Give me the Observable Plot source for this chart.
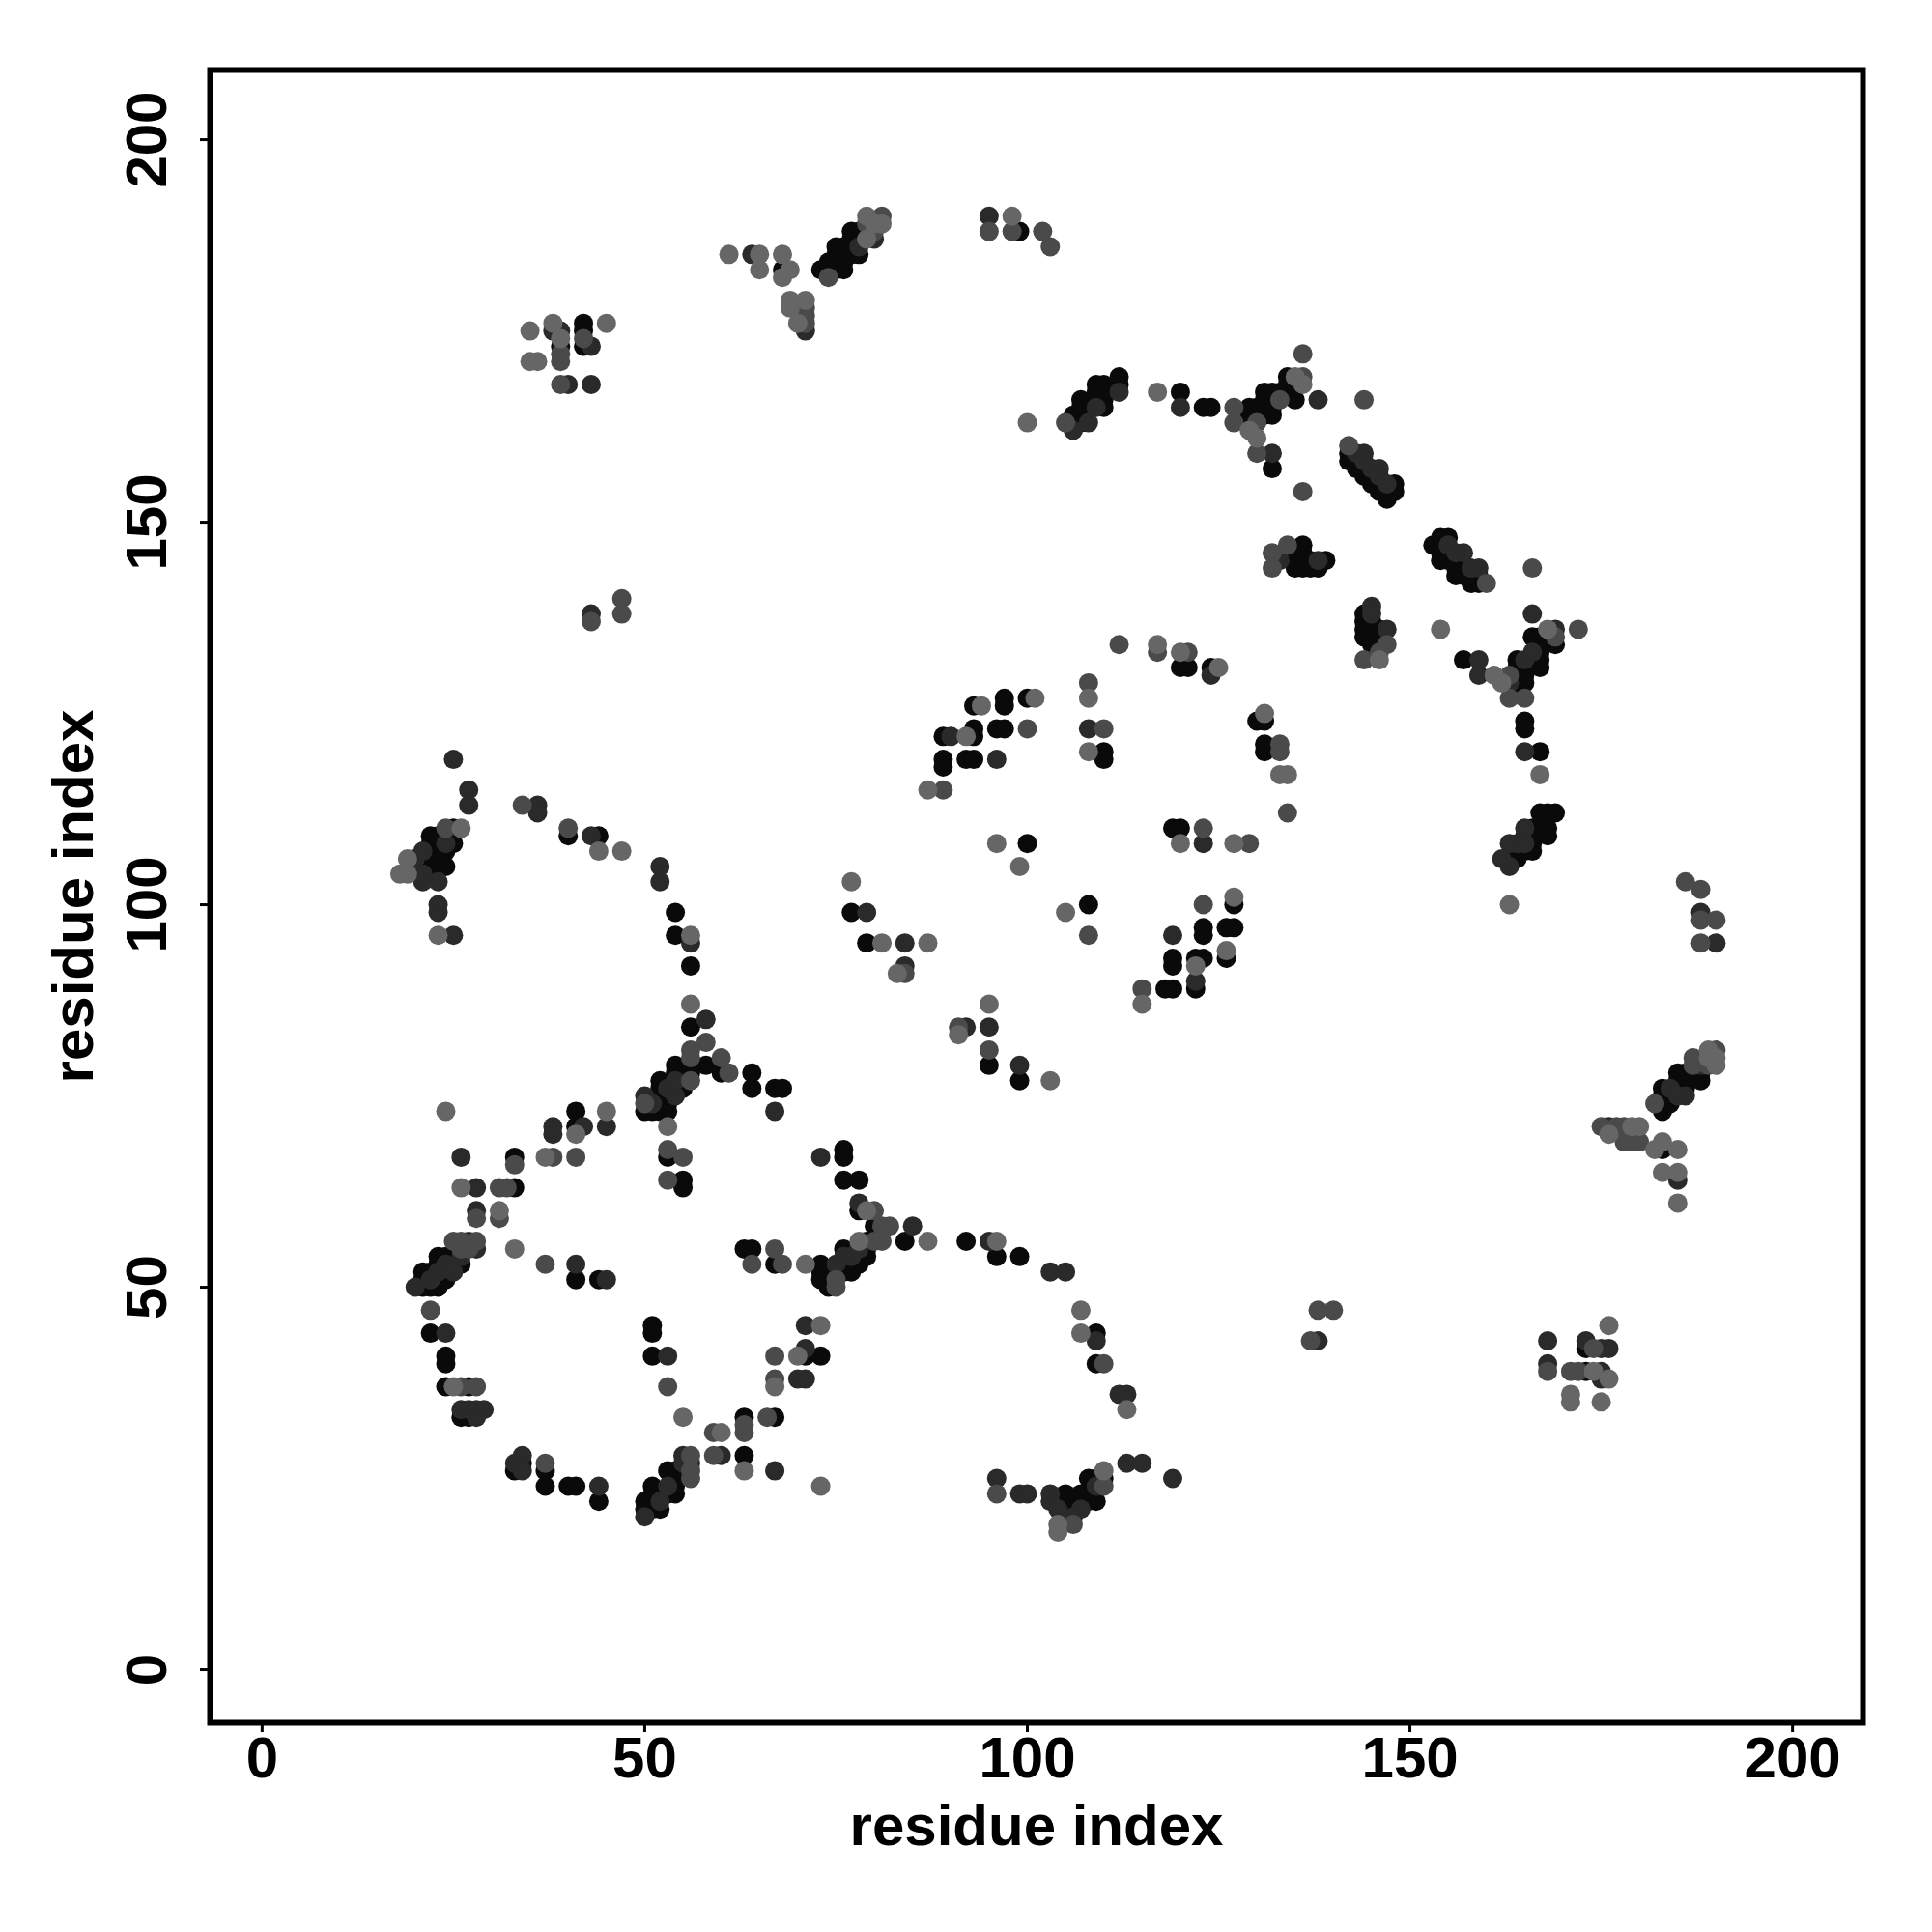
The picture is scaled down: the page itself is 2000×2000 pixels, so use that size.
<!DOCTYPE html>
<html>
<head>
<meta charset="utf-8">
<script src="https://cdn.jsdelivr.net/npm/d3@7"></script>
<script src="https://cdn.jsdelivr.net/npm/@observablehq/plot@0.6"></script>
<style>html,body{margin:0;padding:0;background:#fff}svg{display:block}</style>
</head>
<body>
<div id="chart"></div>
<script>
const tickValues = [0, 50, 100, 150, 200];
const axisLabel = "residue index";

const contactsBlack = [[41,73],[41,71],[33,67],[33,63],[21,50],[22,50],[23,50],[21,51],[21,52],[22,52],[23,51],[24,51],[23,53],[23,54],[24,54],[25,54],[25,53],[26,53],[22,44],[24,41],[24,40],[24,37],[27,37],[26,33],[27,33],[34,27],[33,26],[37,26],[37,24],[40,24],[41,24],[44,22],[41,51],[44,51],[50,22],[50,21],[51,24],[51,23],[51,21],[52,21],[52,23],[53,26],[54,26],[54,25],[54,24],[54,23],[53,23],[63,33],[63,28],[67,33],[51,45],[51,44],[51,41],[53,67],[55,64],[55,63],[76,68],[76,67],[76,64],[63,55],[64,55],[67,53],[71,41],[73,41],
[78,64],[78,60],[80,58],[84,56],[92,56],[96,54],[99,54],[109,44],[109,40],[105,23],[105,21],[105,22],[106,21],[107,22],[108,22],[108,23],[109,22],[109,25],[110,25],[107,23],[108,25],
[73,53],[73,52],[73,51],[74,51],[74,50],[74,52],[75,52],[76,52],[76,53],[76,55],[77,52],[77,53],[78,53],[78,54],[79,54],[79,55],[79,56],
[22,109],[22,108],[23,109],[25,110],[25,108],[24,107],[22,105],[21,105],[23,105],[24,105],[22,106],[23,106],[23,107],[22,104],[40,109],[44,109],[54,99],[54,96],[56,92],[56,84],[60,78],[58,79],[56,79],[54,79],[54,78],[56,78],[55,76],[52,77],[52,76],[53,75],[64,78],[64,76],[67,76],[68,76],[50,73],[51,73],[52,73],[53,73],[52,74],[52,75],[53,74],
[120,131],[121,131],[124,131],[110,120],[110,119],[130,124],[131,124],[131,121],[131,120],[93,126],[97,127],[97,126],[100,127],[96,123],[97,123],[93,123],[93,122],[89,122],[89,119],[89,118],[92,119],[93,119],[100,108],[119,110],[120,110],[77,99],[79,95],[95,79],[99,77],[108,100],[118,89],[119,89],[122,89],[122,93],[123,93],[119,93],[119,92],[123,97],[123,96],[126,97],[127,97],[126,93],[127,100],
[106,164],[107,166],[107,165],[107,164],[107,163],[109,168],[109,167],[109,166],[110,168],[110,167],[110,166],[110,165],[112,169],[112,168],[120,167],[123,165],[124,165],[129,165],[129,164],[129,163],[130,165],[130,164],[131,167],[131,166],[131,165],[131,164],[132,167],[132,166],[132,165],[132,164],[133,167],[134,169],[134,168],[134,167],[135,166],[135,168],[132,157],[142,159],[142,158],[143,157],[143,158],[144,156],[144,157],[145,155],[145,156],[146,154],[146,155],[147,153],[147,154],[148,155],[148,154],[135,146],[135,145],[135,144],[136,147],[136,146],[136,145],[136,144],[137,145],[137,144],[138,144],[139,145],[144,138],[144,137],[144,136],[144,135],[145,137],[145,136],[145,135],[145,134],[146,136],[146,135],[157,132],
[153,147],[154,148],[154,145],[154,146],[155,148],[155,146],[155,145],[156,143],[156,144],[156,145],[157,144],[157,143],[158,142],[158,143],[159,143],[159,142],[166,135],[167,135],[169,134],[167,134],[167,133],[167,132],[167,131],[164,132],[164,131],[165,131],[165,130],[165,129],[164,130],[164,129],[165,124],[165,123],[167,120],[167,112],[168,112],[169,112],[166,110],[167,110],[168,110],[168,109],[166,108],[166,107],[165,107],[164,107],[163,106],[164,106],[165,109],[166,109],
[173,39],[173,42],[183,73],[183,74],[183,75],[183,76],[184,74],[184,75],[185,78],[185,77],[185,76],[186,78],[186,77],[186,76],[188,77],[188,78],[187,78],[183,68],
[39,173],[42,176],[42,175],[42,173],[68,183],[73,183],[74,184],[74,183],[75,186],[75,185],[75,183],[76,186],[76,184],[76,183],[77,188],[77,187],[77,185],[78,188],[78,185],[99,188]];

const contactsDark = [[38,71],[38,70],[42,71],[45,71],[26,67],[28,63],[28,60],[20,50],[26,54],[28,55],[27,56],[24,44],[26,34],[27,34],[28,34],[29,34],[28,33],[34,28],[33,27],[34,26],[44,24],[50,20],[55,28],[56,27],[60,28],[67,26],[67,73],[73,67],[53,41],[71,45],[71,42],[70,38],[71,38],[78,61],[85,58],[95,56],[103,52],[105,52],[109,43],[112,36],[113,36],[113,27],[115,27],[119,25],[96,25],[99,23],[100,23],[103,23],[103,22],[106,20],[107,21],[109,24],[25,119],[27,115],[27,113],[36,113],[36,112],[43,109],[20,106],[21,107],[21,103],[21,104],[23,103],[23,100],[23,99],[25,96],[52,105],[52,103],[56,95],[58,85],[50,75],[53,76],[41,53],[45,51],
[124,130],[108,123],[90,122],[96,119],[123,108],[79,99],[84,95],[84,92],[95,84],[92,84],[99,79],[119,96],[122,90],
[106,162],[108,163],[112,167],[120,165],[138,166],[132,159],[159,130],[143,159],[144,159],[146,157],[145,139],[145,138],[147,136],[138,145],[159,132],[157,146],[159,144],[166,138],[169,136],[163,129],[165,120],[165,110],[164,108],[163,108],[163,105],[162,106],[188,99],[190,95],[138,43],[168,43],[168,40],[173,43],[175,42],[176,42],[175,39],[175,38],[176,71],[186,75],[188,79],[185,64],[38,175],[39,175],[40,168],[43,173],[43,168],[43,138],[71,175],[64,185],[80,187],[95,190],
[22,51],[23,52],[24,53],[25,52],[52,22],[53,24],[75,53],[76,54],[77,54],[78,55],[144,158],[145,157],[146,156],[147,155],[155,147],[156,146],[158,144],[24,108],[109,165],[165,132],[165,108],[184,76],[185,75],[78,186],[104,21],[166,133],[133,145],[54,75],[54,77],[51,74],[55,27]];

const contactsMid = [[33,66],[31,63],[32,63],[28,59],[31,59],[38,67],[41,67],[37,53],[26,55],[27,55],[25,56],[26,56],[28,56],[22,47],[26,37],[28,37],[37,27],[56,28],[56,26],[56,25],[59,28],[59,31],[63,32],[63,31],[66,33],[53,68],[55,67],[53,64],[53,37],[64,53],[67,55],[68,53],[67,41],[67,38],[80,60],[81,58],[82,58],[96,23],[106,19],[110,24],[110,40],[75,50],[75,51],[80,56],[81,56],
[34,113],[40,110],[24,110],[58,82],[56,81],[56,80],[60,80],[61,78],[56,77],[50,74],
[112,134],[117,133],[121,133],[108,129],[110,123],[100,123],[133,121],[133,120],[134,112],[123,110],[129,108],[89,115],[84,91],[91,84],[95,81],[108,96],[115,89],[123,100],
[105,163],[127,165],[127,163],[130,163],[133,166],[136,169],[136,172],[144,166],[130,159],[136,154],[142,160],[132,146],[132,144],[134,147],[147,134],[144,132],[146,133],
[160,142],[166,144],[172,136],[169,135],[163,130],[163,127],[165,127],[186,103],[188,102],[188,98],[190,98],[188,95],
[138,47],[140,47],[137,43],[168,39],[171,39],[172,39],[174,42],[175,71],[177,71],[178,71],[178,69],[179,69],[180,69],[178,70],[182,74],[187,80],[189,79],[190,81],[187,79],
[39,172],[39,171],[39,168],[42,174],[43,137],[47,140],[47,138],[71,178],[71,177],[71,176],[74,182],[79,189],[80,188],[81,190],[95,188],[98,188],[102,188],[103,186]];

const contactsLight = [[24,73],[41,70],[45,73],[53,71],[37,67],[26,63],[31,60],[33,55],[25,37],[55,33],[60,31],[63,26],[73,24],[71,53],[73,45],[70,41],[67,37],[79,60],[87,56],[96,56],[107,47],[107,44],[113,34],[104,19],[104,18],[110,26],[78,56],
[18,104],[19,104],[19,106],[26,110],[23,96],[44,107],[47,107],[56,96],[56,87],
[117,134],[120,133],[125,131],[108,127],[108,120],[94,126],[101,127],[92,122],[87,115],[96,108],[99,105],[120,108],[127,108],[131,125],[133,117],[134,117],[77,103],[81,95],[87,95],[83,91],[95,87],[91,83],[103,77],[105,99],[115,87],[122,92],[126,94],[127,101],
[100,163],[117,167],[129,162],[130,161],[135,169],[136,168],[146,132],[154,136],[161,130],[162,129],[167,117],[168,136],[163,100],[176,38],[176,45],[171,36],[171,35],[175,35],[174,39],[176,70],[179,71],[180,71],[182,68],[183,69],[185,68],[183,65],[185,65],[185,61],[189,81],[189,80],[190,80],[190,79],
[35,175],[35,171],[36,171],[38,176],[39,174],[45,176],[61,185],[65,185],[65,183],[68,185],[68,182],[69,183],[69,179],[69,178],[70,176],[71,179],[79,190],[79,187],[81,189],[80,189],[98,190]];

const layers = [
  [contactsBlack, "#0a0a0a"],
  [contactsDark, "#2a2a2a"],
  [contactsMid, "#4a4a4a"],
  [contactsLight, "#666666"]
];

const chart = Plot.plot({
  width: 2000,
  height: 2000,
  marginLeft: 217,
  marginRight: 72,
  marginTop: 72,
  marginBottom: 217,
  style: {fontFamily: "'Liberation Sans', Arial, sans-serif", background: "#fff", color: "#000"},
  x: {domain: [-6.8, 209.2]},
  y: {domain: [-6.94, 209.1]},
  marks: [
    ...layers.map(([pts, c]) => Plot.dot(pts, {x: d => d[0], y: d => d[1], r: 10, fill: c, stroke: "none"})),
    Plot.frame({stroke: "#000", strokeWidth: 6}),
    Plot.axisX({
      ticks: tickValues, tickSize: 10, tickPadding: 4, strokeWidth: 3,
      fontSize: 60, fontWeight: "bold", tickFormat: d => String(d),
      label: axisLabel, labelAnchor: "center", labelOffset: 126, labelArrow: "none"
    }),
    Plot.axisY({
      ticks: tickValues, tickSize: 10, tickPadding: 36, strokeWidth: 3,
      fontSize: 60, fontWeight: "bold", tickFormat: d => String(d), tickRotate: -90,
      textAnchor: "middle",
      label: axisLabel, labelAnchor: "center", labelOffset: 164, labelArrow: "none"
    })
  ]
});
document.getElementById("chart").appendChild(chart);
</script>
</body>
</html>
